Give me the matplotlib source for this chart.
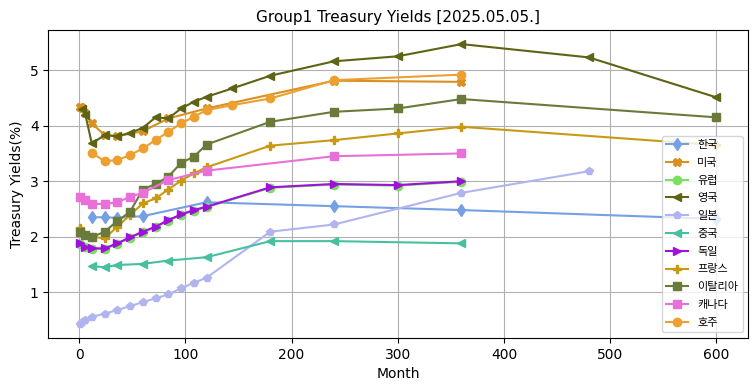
import matplotlib
matplotlib.use("Agg")
import matplotlib.pyplot as plt

plt.rcParams['font.family'] = ['DejaVu Sans', 'Noto Sans CJK KR']
plt.rcParams['axes.unicode_minus'] = False

# maturities in months and yields (%) per country
kr_m = [12, 24, 36, 60, 120, 240, 360, 600]
kr_y = [2.35, 2.35, 2.34, 2.37, 2.62, 2.55, 2.48, 2.32]

us_m = [1, 2, 3, 6, 12, 24, 36, 60, 84, 120, 240, 360]
us_y = [4.33, 4.33, 4.32, 4.22, 4.04, 3.83, 3.81, 3.90, 4.13, 4.31, 4.81, 4.79]

eu_m = [1, 6, 12, 24, 36, 48, 60, 72, 84, 96, 108, 120, 180, 240, 300, 360]
eu_y = [1.87, 1.81, 1.78, 1.78, 1.87, 1.98, 2.08, 2.17, 2.29, 2.39, 2.47, 2.53, 2.88, 2.94, 2.92, 2.99]

uk_m = [3, 6, 12, 24, 36, 48, 60, 72, 84, 96, 108, 120, 144, 180, 240, 300, 360, 480, 600]
uk_y = [4.30, 4.19, 3.68, 3.83, 3.81, 3.87, 3.96, 4.15, 4.13, 4.31, 4.43, 4.52, 4.67, 4.90, 5.16, 5.25, 5.47, 5.23, 4.51]

jp_m = [1, 3, 6, 12, 24, 36, 48, 60, 72, 84, 96, 108, 120, 180, 240, 360, 480]
jp_y = [0.43, 0.46, 0.50, 0.56, 0.61, 0.68, 0.75, 0.82, 0.89, 0.96, 1.07, 1.17, 1.26, 2.09, 2.22, 2.79, 3.18]

cn_m = [12, 24, 36, 60, 84, 120, 180, 240, 360]
cn_y = [1.47, 1.45, 1.49, 1.51, 1.57, 1.63, 1.92, 1.92, 1.88]

de_m = [1, 6, 12, 24, 36, 48, 60, 72, 84, 96, 108, 120, 180, 240, 300, 360]
de_y = [1.88, 1.82, 1.79, 1.79, 1.88, 1.99, 2.09, 2.18, 2.30, 2.40, 2.48, 2.54, 2.89, 2.95, 2.93, 3.00]

fr_m = [1, 12, 24, 36, 48, 60, 72, 84, 96, 108, 120, 180, 240, 300, 360, 600]
fr_y = [2.15, 2.00, 1.97, 2.18, 2.39, 2.60, 2.69, 2.85, 3.01, 3.14, 3.25, 3.64, 3.74, 3.86, 3.98, 3.65]

it_m = [1, 6, 12, 24, 36, 48, 60, 72, 84, 96, 108, 120, 180, 240, 300, 360, 600]
it_y = [2.09, 2.03, 1.99, 2.09, 2.28, 2.45, 2.85, 2.95, 3.08, 3.33, 3.44, 3.66, 4.07, 4.25, 4.31, 4.48, 4.15]

ca_m = [1, 6, 12, 24, 36, 48, 60, 84, 120, 240, 360]
ca_y = [2.72, 2.66, 2.59, 2.59, 2.62, 2.72, 2.79, 3.02, 3.19, 3.45, 3.50]

au_m = [12, 24, 36, 48, 60, 72, 84, 96, 108, 120, 144, 180, 240, 360]
au_y = [3.51, 3.36, 3.38, 3.47, 3.59, 3.74, 3.89, 4.04, 4.16, 4.28, 4.37, 4.49, 4.82, 4.92]

fig, ax = plt.subplots(figsize=(7.55, 3.91), dpi=100)

ax.plot(kr_m, kr_y, marker='d', color='#75a0e4', label='한국')
ax.plot(us_m, us_y, marker='X', color='#d99020', label='미국')
ax.plot(eu_m, eu_y, marker='o', color='#7be060', label='유럽')
ax.plot(uk_m, uk_y, marker='<', color='#5e6414', label='영국')
ax.plot(jp_m, jp_y, marker='p', color='#b2b4f0', label='일본')
ax.plot(cn_m, cn_y, marker='<', color='#48c0a0', label='중국')
ax.plot(de_m, de_y, marker='>', color='#a010dc', label='독일')
ax.plot(fr_m, fr_y, marker='P', color='#c89a14', label='프랑스')
ax.plot(it_m, it_y, marker='s', color='#6a7a3a', label='이탈리아')
ax.plot(ca_m, ca_y, marker='s', color='#e870d8', label='캐나다')
ax.plot(au_m, au_y, marker='o', color='#eda030', label='호주')

ax.set_title('Group1 Treasury Yields [2025.05.05.]', fontsize=11)
ax.set_xlabel('Month', fontsize=10)
ax.set_ylabel('Treasury Yields(%)', fontsize=10)
ax.grid(True)
ax.legend(loc='lower right', fontsize=8, labelspacing=0.7)

plt.subplots_adjust(left=0.064, right=0.991, top=0.923, bottom=0.136)
plt.savefig('out.png', dpi=100)
